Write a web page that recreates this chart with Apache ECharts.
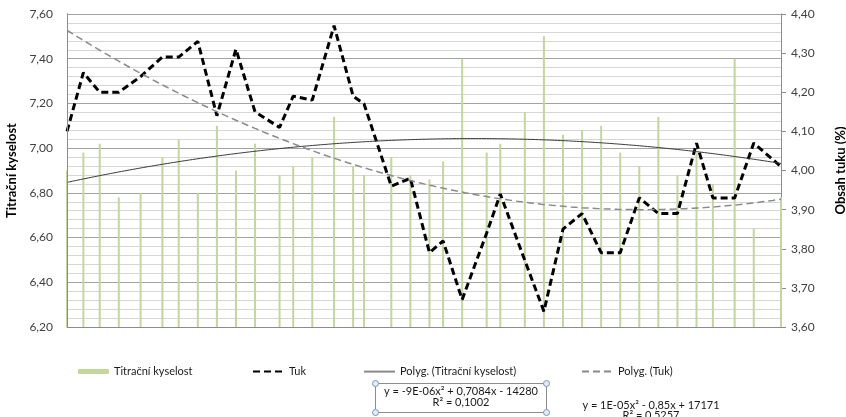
<!DOCTYPE html>
<html>
<head>
<meta charset="utf-8">
<script src="https://cdn.jsdelivr.net/npm/echarts@6/dist/echarts.min.js"></script>
<style>
  html, body { margin: 0; padding: 0; background: #fff; }
  #chart { width: 846px; height: 417px; }
</style>
</head>
<body>
<div id="chart"></div>
<script>
// Sampling days, counted from the first measurement
const dayOffsets = [0, 6, 12, 19, 27, 35, 41, 48, 55, 62, 69, 78, 83, 90, 98, 105, 109, 119, 126, 133,
  138, 145, 154, 159, 168, 175, 182, 189, 196, 203, 210, 217, 224, 231, 237, 245, 252, 262];

// Titrační kyselost (left axis)
const acidity = [6.90, 6.98, 7.02, 6.78, 6.80, 6.96, 7.04, 6.80, 7.10, 6.90, 7.02, 6.88, 6.92, 6.96, 7.14,
  6.92, 6.88, 6.96, 6.88, 6.86, 6.94, 7.40, 6.98, 7.02, 7.16, 7.50, 7.06, 7.08, 7.10, 6.98, 6.92, 7.14,
  6.88, 6.98, 6.84, 7.40, 6.64, 6.78];

// Obsah tuku in % (right axis)
const fat = [4.10, 4.25, 4.20, 4.20, 4.24, 4.29, 4.29, 4.33, 4.14, 4.31, 4.15, 4.11, 4.19, 4.18, 4.37,
  4.19, 4.17, 3.96, 3.98, 3.79, 3.82, 3.67, 3.84, 3.94, 3.77, 3.64, 3.85, 3.89, 3.79, 3.79, 3.93, 3.89,
  3.89, 4.07, 3.93, 3.93, 4.07, 4.01];

// Axis ranges and tick steps
const leftTicks = { min: 6.2, max: 7.6, step: 0.2 };
const rightTicks = { min: 3.6, max: 4.4, step: 0.1 };

// Trend-line equations as printed next to the legend
const acidityEquation = ['y = -9E-06x\u00B2 + 0,7084x - 14280', 'R\u00B2 = 0,1002'];
const fatEquation = ['y = 1E-05x\u00B2 - 0,85x + 17171', 'R\u00B2 = 0,5257'];

// Least-squares fit of a second-order polynomial
function quadFit(xs, ys) {
  const s = [0, 0, 0, 0, 0], t = [0, 0, 0];
  for (let i = 0; i < xs.length; i++) {
    if (ys[i] == null) continue;
    let p = 1;
    for (let k = 0; k <= 4; k++) { s[k] += p; if (k <= 2) t[k] += p * ys[i]; p *= xs[i]; }
  }
  const m = [[s[0], s[1], s[2], t[0]], [s[1], s[2], s[3], t[1]], [s[2], s[3], s[4], t[2]]];
  for (let c = 0; c < 3; c++) {
    for (let r = c + 1; r < 3; r++) {
      const f = m[r][c] / m[c][c];
      for (let k = c; k < 4; k++) m[r][k] -= f * m[c][k];
    }
  }
  const coef = [0, 0, 0];
  for (let r = 2; r >= 0; r--) {
    let v = m[r][3];
    for (let k = r + 1; k < 3; k++) v -= m[r][k] * coef[k];
    coef[r] = v / m[r][r];
  }
  return coef;
}

function trendPoints(coef) {
  const first = dayOffsets[0], last = dayOffsets[dayOffsets.length - 1];
  const pts = [];
  for (let d = first; d <= last; d++) pts.push([d, coef[0] + coef[1] * d + coef[2] * d * d]);
  return pts;
}

const pairs = (ys) => dayOffsets.map((d, i) => [d, ys[i]]);
const comma = (v, n) => v.toFixed(n).replace('.', ',');

const FONT = 'Lato';
const labelColor = '#404040';
const axisGray = '#8c8c8c';

const chart = echarts.init(document.getElementById('chart'), null, { renderer: 'canvas' });

// one legend per entry so each key sits at its own place in the row
const legendBase = {
  top: 366, itemWidth: 31, itemHeight: 14, padding: 0,
  textStyle: { fontFamily: FONT, fontSize: 11, color: '#1a1a1a' },
  itemStyle: { opacity: 0 },
  selectedMode: false
};

chart.setOption({
  animation: false,
  backgroundColor: '#ffffff',
  grid: { left: 67, right: 65, top: 14, bottom: 90, containLabel: false, outerBoundsMode: 'none' },
  xAxis: {
    type: 'value',
    min: dayOffsets[0],
    max: dayOffsets[dayOffsets.length - 1],
    axisLine: { show: true, lineStyle: { color: axisGray } },
    axisTick: { show: false },
    axisLabel: { show: false },
    splitLine: { show: false }
  },
  yAxis: [
    {
      type: 'value', position: 'left',
      min: leftTicks.min, max: leftTicks.max, interval: leftTicks.step,
      name: 'Titrační kyselost', nameLocation: 'middle', nameRotate: 90, nameGap: 43,
      nameTextStyle: { fontFamily: FONT, fontSize: 13, fontWeight: 'bold', color: '#000' },
      axisLine: { show: true, lineStyle: { color: axisGray } },
      axisTick: { show: false },
      axisLabel: { margin: 14, fontFamily: FONT, fontSize: 12, color: labelColor, formatter: (v) => comma(v, 2) },
      splitLine: { show: true, lineStyle: { color: '#a3a3a3', width: 1 } },
      minorTick: { show: false, splitNumber: 5 },
      minorSplitLine: { show: true, lineStyle: { color: '#d6d6d6', width: 1 } }
    },
    {
      type: 'value', position: 'right',
      min: rightTicks.min, max: rightTicks.max, interval: rightTicks.step,
      name: 'Obsah tuku (%)', nameLocation: 'middle', nameRotate: 90, nameGap: 53,
      nameTextStyle: { fontFamily: FONT, fontSize: 13, fontWeight: 'bold', color: '#000' },
      axisLine: { show: true, lineStyle: { color: axisGray } },
      axisTick: { show: true, inside: false, length: 5, lineStyle: { color: axisGray } },
      axisLabel: { margin: 10, fontFamily: FONT, fontSize: 12, color: labelColor, formatter: (v) => comma(v, 2) },
      splitLine: { show: false }
    },
    {
      // left axis line drawn on its own layer above the bars
      type: 'value', position: 'left', zlevel: 1, z: 10,
      min: leftTicks.min, max: leftTicks.max,
      axisLine: { show: true, lineStyle: { color: axisGray, width: 1 } },
      axisTick: { show: false }, axisLabel: { show: false }, splitLine: { show: false }
    }
  ],
  legend: [
    Object.assign({}, legendBase, { left: 78, itemHeight: 5, itemStyle: {}, data: ['Titrační kyselost'] }),
    Object.assign({}, legendBase, { left: 252, data: ['Tuk'] }),
    Object.assign({}, legendBase, { left: 363, lineStyle: { color: '#8a8a8a', width: 2 }, data: ['Polyg. (Titrační kyselost)'] }),
    Object.assign({}, legendBase, { left: 581, data: ['Polyg. (Tuk)'] })
  ],
  series: [
    {
      name: 'Titrační kyselost', type: 'bar', yAxisIndex: 0,
      barWidth: 2, clip: true,
      itemStyle: { color: '#c3d69b' },
      data: pairs(acidity), z: 2
    },
    {
      name: 'Tuk', type: 'line', yAxisIndex: 1,
      symbol: 'none', showSymbol: false,
      lineStyle: { color: '#000', width: 3, type: [7, 4] },
      itemStyle: { color: '#000' },
      data: pairs(fat), z: 3
    },
    {
      name: 'Polyg. (Titrační kyselost)', type: 'line', yAxisIndex: 0,
      symbol: 'none', showSymbol: false,
      lineStyle: { color: '#3a3a3a', width: 1 },
      itemStyle: { color: '#3a3a3a' },
      data: trendPoints(quadFit(dayOffsets, acidity)), z: 4
    },
    {
      name: 'Polyg. (Tuk)', type: 'line', yAxisIndex: 1,
      symbol: 'none', showSymbol: false,
      lineStyle: { color: '#8a8a8a', width: 1.5, type: [7, 4] },
      itemStyle: { color: '#8a8a8a' },
      data: trendPoints(quadFit(dayOffsets, fat)), z: 4
    }
  ],
  graphic: [
    {
      type: 'group', left: 372, top: 380,
      children: [
        { type: 'rect', shape: { x: 0, y: 3, width: 171, height: 29 },
          style: { fill: '#fff', stroke: '#8c8c8c', lineWidth: 1 } },
        ...[[0, 3], [171, 3], [0, 32], [171, 32]].map(([cx, cy]) => ({
          type: 'circle', shape: { cx, cy, r: 3 },
          style: { fill: '#e3ebf5', stroke: '#7d97b8', lineWidth: 1 }
        })),
        { type: 'text', x: 85.5, y: 11, style: { text: acidityEquation[0], align: 'center', verticalAlign: 'middle',
          fontFamily: FONT, fontSize: 11, fill: '#1a1a1a' } },
        { type: 'text', x: 85.5, y: 22, style: { text: acidityEquation[1], align: 'center', verticalAlign: 'middle',
          fontFamily: FONT, fontSize: 11, fill: '#1a1a1a' } }
      ]
    },
    { type: 'text', x: 651, y: 405, style: { text: fatEquation[0], align: 'center', verticalAlign: 'middle',
      fontFamily: FONT, fontSize: 11, fill: '#1a1a1a' } },
    { type: 'text', x: 651, y: 415, style: { text: fatEquation[1], align: 'center', verticalAlign: 'middle',
      fontFamily: FONT, fontSize: 11, fill: '#1a1a1a' } }
  ]
});
</script>
</body>
</html>
